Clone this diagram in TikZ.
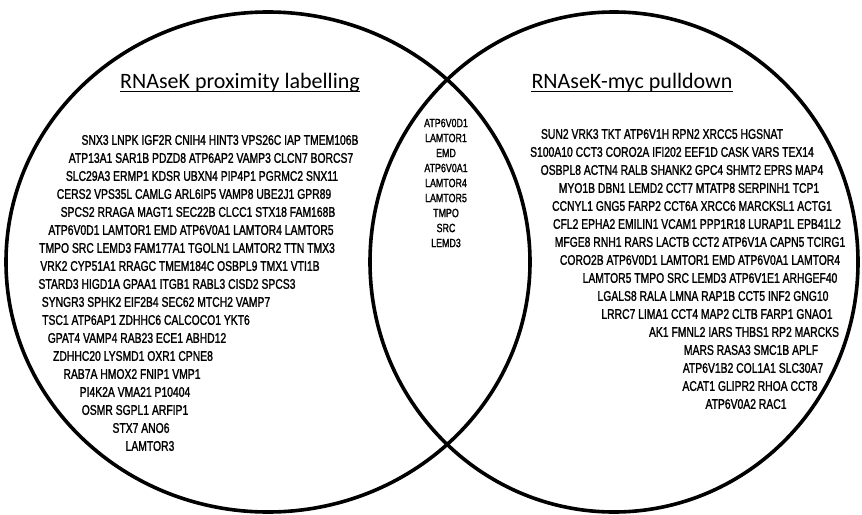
\documentclass[tikz,border=0pt]{standalone}
\usepackage{fontspec}
\setmainfont{Liberation Sans}
\newfontfamily\titleFont{Carlito}
\newfontfamily\geneFont[FakeStretch=0.74, FakeBold=1.4]{Liberation Sans}
\tikzstyle{pixelGrid} = [x = 1pt, y = -1pt]
\tikzstyle{vennLine} = [color=black, line width = 3.6pt]
\tikzstyle{geneText} = [font=\geneFont\fontsize{14}{16}\selectfont, inner sep = 0pt]
\tikzstyle{geneTextSmall} = [font=\geneFont\fontsize{12}{14}\selectfont, inner sep = 0pt]
\tikzstyle{titleText} = [font=\titleFont\fontsize{22}{26}\selectfont, inner sep = 0pt, anchor = base]
\newcommand{\titleRule}[1]{\draw [line width = 1.6pt] ([yshift = -3.5pt]#1.base west) -- ([yshift = -3.5pt]#1.base east);}
\newcommand{\geneLines}[5]{
  \foreach \cx/\genes [count=\i] in {#5} {
    \node [#2] (#1\i) at (\cx, {#3 + #4 * (\i - 1)}) {\genes};
  }
}

\begin{document}
\begin{tikzpicture}[pixelGrid]
  \useasboundingbox (0,0) rectangle (862,514);
  \draw [vennLine] (268,262) ellipse [x radius = 262pt, y radius = 250pt];
  \draw [vennLine] (614,262) ellipse [x radius = 244pt, y radius = 250pt];

  \node [titleText] (leftTitle) at (240,88) {RNAseK proximity labelling};
  \node [titleText] (rightTitle) at (632,88) {RNAseK-myc pulldown};
  \titleRule{leftTitle}
  \titleRule{rightTitle}

  % proximity labelling only
  \geneLines{left}{geneText}{140}{18}{
    220/SNX3 LNPK IGF2R CNIH4 HINT3 VPS26C IAP TMEM106B,
    211/ATP13A1 SAR1B PDZD8 ATP6AP2 VAMP3 CLCN7 BORCS7,
    202/SLC29A3 ERMP1 KDSR UBXN4 PIP4P1 PGRMC2 SNX11,
    194/CERS2 VPS35L CAMLG ARL6IP5 VAMP8 UBE2J1 GPR89,
    198/SPCS2 RRAGA MAGT1 SEC22B CLCC1 STX18 FAM168B,
    191/ATP6V0D1 LAMTOR1 EMD ATP6V0A1 LAMTOR4 LAMTOR5,
    187/TMPO SRC LEMD3 FAM177A1 TGOLN1 LAMTOR2 TTN TMX3,
    180/VRK2 CYP51A1 RRAGC TMEM184C OSBPL9 TMX1 VTI1B,
    167/STARD3 HIGD1A GPAA1 ITGB1 RABL3 CISD2 SPCS3,
    156/SYNGR3 SPHK2 EIF2B4 SEC62 MTCH2 VAMP7,
    146/TSC1 ATP6AP1 ZDHHC6 CALCOCO1 YKT6,
    137/GPAT4 VAMP4 RAB23 ECE1 ABHD12,
    133/ZDHHC20 LYSMD1 OXR1 CPNE8,
    132/RAB7A HMOX2 FNIP1 VMP1,
    135/PI4K2A VMA21 P10404,
    135/OSMR SGPL1 ARFIP1,
    141/STX7 ANO6,
    150/LAMTOR3}

  % shared
  \geneLines{mid}{geneTextSmall}{123}{15}{
    446/ATP6V0D1, 446/LAMTOR1, 446/EMD, 446/ATP6V0A1, 446/LAMTOR4,
    446/LAMTOR5, 446/TMPO, 446/SRC, 446/LEMD3}

  % pulldown only
  \geneLines{right}{geneText}{134}{18}{
    662/SUN2 VRK3 TKT ATP6V1H RPN2 XRCC5 HGSNAT,
    672/S100A10 CCT3 CORO2A IFI202 EEF1D CASK VARS TEX14,
    682/OSBPL8 ACTN4 RALB SHANK2 GPC4 SHMT2 EPRS MAP4,
    689/MYO1B DBN1 LEMD2 CCT7 MTATP8 SERPINH1 TCP1,
    692/CCNYL1 GNG5 FARP2 CCT6A XRCC6 MARCKSL1 ACTG1,
    697/CFL2 EPHA2 EMILIN1 VCAM1 PPP1R18 LURAP1L EPB41L2,
    700/MFGE8 RNH1 RARS LACTB CCT2 ATP6V1A CAPN5 TCIRG1,
    700/CORO2B ATP6V0D1 LAMTOR1 EMD ATP6V0A1 LAMTOR4,
    710/LAMTOR5 TMPO SRC LEMD3 ATP6V1E1 ARHGEF40,
    713/LGALS8 RALA LMNA RAP1B CCT5 INF2 GNG10,
    717/LRRC7 LIMA1 CCT4 MAP2 CLTB FARP1 GNAO1,
    744/AK1 FMNL2 IARS THBS1 RP2 MARCKS,
    751/MARS RASA3 SMC1B APLF,
    753/ATP6V1B2 COL1A1 SLC30A7,
    750/ACAT1 GLIPR2 RHOA CCT8,
    746/ATP6V0A2 RAC1}
\end{tikzpicture}
\end{document}
